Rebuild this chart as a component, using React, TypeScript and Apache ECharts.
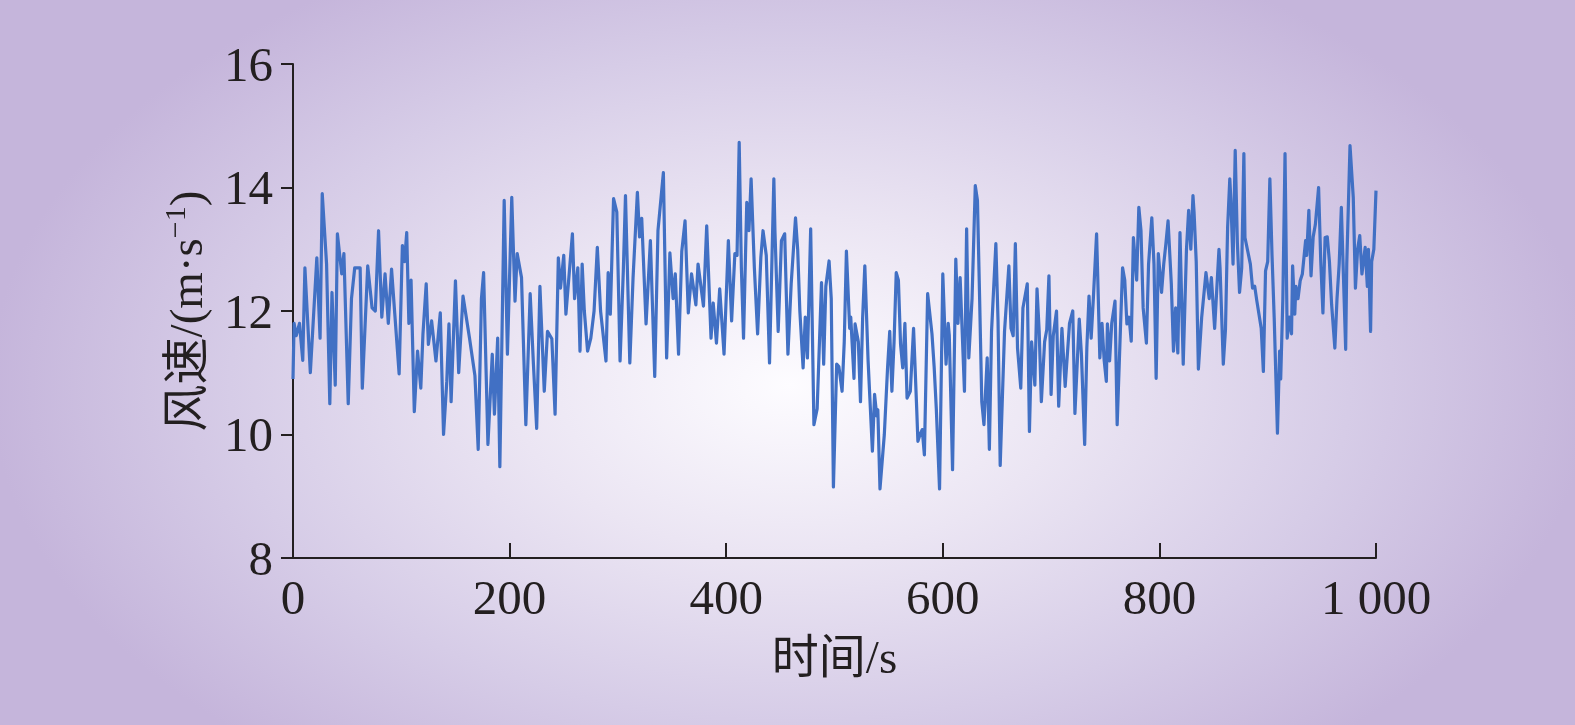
import React, { useEffect, useRef } from 'react';
import * as echarts from 'echarts';

const times = [
  0, 1, 3, 6, 9, 11, 16, 22, 25, 27,
  31, 34, 36, 39, 41, 45, 47, 51, 54, 57,
  62, 64, 69, 73, 76, 79, 82, 85, 88, 91,
  94, 98, 101, 103, 105, 107, 109, 112, 115, 118,
  120, 123, 125, 128, 132, 136, 139, 142, 144, 146,
  150, 153, 157, 163, 168, 171, 174, 176, 180, 184,
  186, 189, 191, 195, 198, 202, 205, 207, 211, 215,
  219, 222, 225, 228, 232, 235, 239, 242, 245, 247,
  250, 252, 258, 260, 263, 265, 267, 269, 272, 275,
  278, 281, 284, 289, 291, 293, 296, 299, 302, 305,
  307, 311, 314, 318, 320, 322, 326, 330, 334, 337,
  342, 345, 348, 351, 353, 356, 359, 362, 365, 368,
  372, 374, 379, 382, 386, 388, 391, 394, 398, 402,
  405, 408, 410, 412, 414, 416, 419, 421, 423, 426,
  429, 432, 434, 437, 440, 444, 445, 448, 451, 454,
  457, 460, 464, 466, 468, 471, 473, 475, 478, 481,
  484, 488, 490, 492, 495, 497, 499, 502, 504, 507,
  509, 511, 514, 515, 518, 519, 522, 524, 526, 528,
  531, 535, 537, 539, 540, 542, 546, 549, 551, 553,
  555, 557, 559, 561, 563, 565, 567, 570, 573, 576,
  577, 579, 581, 583, 586, 590, 592, 594, 597, 600,
  603, 605, 606, 609, 612, 614, 616, 620, 622, 624,
  627, 630, 632, 634, 636, 638, 641, 643, 645, 649,
  651, 653, 655, 657, 661, 663, 665, 667, 669, 672,
  674, 678, 680, 682, 685, 687, 689, 691, 694, 696,
  698, 700, 702, 705, 707, 710, 713, 717, 720, 722,
  726, 728, 731, 733, 735, 737, 739, 742, 743, 745,
  747, 749, 751, 752, 754, 756, 759, 761, 764, 766,
  768, 770, 772, 774, 776, 779, 781, 783, 785, 788,
  790, 793, 795, 797, 799, 802, 804, 806, 808, 811,
  813, 815, 817, 819, 822, 825, 827, 829, 831, 832,
  834, 836, 839, 843, 846, 848, 851, 855, 856, 859,
  861, 863, 865, 866, 868, 870, 872, 874, 876, 878,
  879, 884, 886, 888, 890, 894, 896, 898, 900, 902,
  904, 906, 909, 911, 912, 914, 916, 918, 920, 922,
  923, 925, 926, 928, 930, 932, 935, 936, 938, 940,
  942, 944, 947, 949, 951, 953, 955, 957, 959, 962,
  964, 966, 968, 969, 972, 973, 976, 979, 981, 983,
  985, 987, 990, 992, 993, 995, 996, 998, 1000,
];

const speeds = [
  10.9, 11.8, 11.6, 11.8, 11.2, 12.7, 11.0, 12.86, 11.56, 13.9,
  12.76, 10.5, 12.3, 10.8, 13.25, 12.6, 12.93, 10.5, 12.2, 12.7,
  12.7, 10.75, 12.73, 12.05, 12.0, 13.3, 11.9, 12.6, 11.8, 12.68,
  11.95, 10.98, 13.06, 12.8, 13.27, 11.8, 12.5, 10.37, 11.35, 10.75,
  11.63, 12.44, 11.46, 11.84, 11.19, 11.97, 10.0, 10.86, 11.79, 10.53,
  12.49, 11.0, 12.24, 11.56, 10.95, 9.76, 12.2, 12.62, 9.84, 11.3,
  10.33, 11.56, 9.48, 13.79, 11.3, 13.84, 12.16, 12.93, 12.54, 10.16,
  12.28, 11.14, 10.1, 12.4, 10.7, 11.67, 11.55, 10.33, 12.86, 12.37,
  12.9, 11.95, 13.25, 12.2, 12.7, 11.35, 12.76, 12.0, 11.35, 11.56,
  12.0, 13.03, 12.0, 11.19, 12.62, 11.95, 13.82, 13.6, 11.19, 12.65,
  13.87, 11.16, 12.54, 13.92, 13.2, 13.5, 11.79, 13.14, 10.94, 13.3,
  14.24, 11.24, 12.94, 12.2, 12.6, 11.3, 12.97, 13.46, 11.97, 12.6,
  12.1, 12.76, 12.08, 13.38, 11.56, 12.13, 11.48, 12.36, 11.3, 13.14,
  11.84, 12.93, 12.9, 14.73, 12.7, 11.56, 13.76, 13.3, 14.14, 12.7,
  11.63, 12.87, 13.3, 12.9, 11.16, 14.14, 13.3, 11.67, 13.14, 13.25,
  11.3, 12.44, 13.51, 13.0, 12.0, 11.08, 11.9, 11.24, 13.33, 10.16,
  10.42, 12.46, 11.14, 12.4, 12.81, 12.2, 9.15, 11.14, 11.1, 10.7,
  11.5, 12.97, 11.72, 11.9, 10.91, 11.79, 11.5, 10.53, 11.9, 12.73,
  11.2, 9.73, 10.65, 10.3, 10.4, 9.12, 10.0, 11.08, 11.67, 10.7,
  11.5, 12.62, 12.5, 11.46, 11.08, 11.8, 10.59, 10.7, 11.72, 10.37,
  9.89, 10.0, 10.08, 9.67, 12.28, 11.63, 11.1, 10.42, 9.12, 12.6,
  11.14, 11.8, 11.6, 9.43, 12.84, 11.8, 12.54, 10.7, 13.33, 11.24,
  12.2, 14.03, 13.79, 12.2, 10.53, 10.16, 11.24, 9.76, 11.67, 13.09,
  11.84, 9.5, 10.59, 11.67, 12.73, 11.72, 11.6, 13.09, 11.4, 10.75,
  12.05, 12.44, 10.05, 11.5, 10.8, 12.36, 11.67, 10.53, 11.5, 11.7,
  12.57, 10.65, 11.6, 12.0, 10.46, 11.72, 10.78, 11.8, 12.0, 10.34,
  11.87, 11.3, 9.84, 11.4, 12.24, 11.56, 12.2, 13.25, 12.6, 11.24,
  11.8, 11.2, 10.86, 11.79, 11.19, 11.8, 12.16, 10.16, 11.7, 12.7,
  12.5, 11.79, 11.9, 11.51, 13.19, 12.5, 13.68, 13.3, 12.05, 11.48,
  12.76, 13.51, 12.76, 10.91, 12.93, 12.3, 12.76, 13.09, 13.46, 12.44,
  11.35, 12.05, 11.32, 13.27, 11.14, 13.0, 13.63, 13.0, 13.87, 13.6,
  12.8, 11.06, 11.89, 12.62, 12.2, 12.54, 11.72, 13.0, 12.7, 11.14,
  11.7, 13.36, 14.14, 13.8, 12.76, 14.6, 13.1, 12.3, 12.7, 14.55,
  13.19, 12.76, 12.37, 12.4, 12.16, 11.72, 11.02, 12.65, 12.8, 14.14,
  12.9, 11.89, 10.02, 11.35, 10.9, 12.2, 14.55, 11.56, 11.9, 11.63,
  12.73, 11.95, 12.4, 12.2, 12.49, 12.6, 13.14, 12.9, 13.63, 12.57,
  13.2, 13.4, 14.0, 12.8, 11.97, 13.19, 13.2, 12.8, 12.11, 11.4,
  12.2, 12.76, 13.68, 13.1, 11.38, 12.76, 14.68, 13.84, 12.37, 13.0,
  13.22, 12.6, 13.03, 12.4, 13.0, 11.67, 12.8, 13.0, 13.95,
];

const xTickValues = [0, 200, 400, 600, 800, 1000];
const xTickLabels = ['0', '200', '400', '600', '800', '1 000'];

const FONT = "'Liberation Serif', 'Times New Roman', 'Noto Sans CJK SC', serif";
const INK = '#231f20';

export default function App() {
  const ref = useRef<HTMLDivElement>(null);

  useEffect(() => {
    document.body.style.margin = '0';
    const chart = echarts.init(ref.current as HTMLDivElement, null, { renderer: 'svg' });
    chart.setOption({
      animation: false,
      grid: { left: 293, right: 199, top: 64, bottom: 167 },
      xAxis: {
        type: 'value',
        min: 0,
        max: 1000,
        interval: 200,
        name: '时间/s',
        nameLocation: 'middle',
        nameGap: 75,
        nameTextStyle: { fontFamily: FONT, fontSize: 47, color: INK },
        axisLine: { show: true, lineStyle: { color: INK, width: 2 } },
        axisTick: { show: true, inside: true, length: 15, lineStyle: { color: INK, width: 2 } },
        axisLabel: {
          margin: 15,
          fontFamily: FONT,
          fontSize: 49,
          color: INK,
          formatter: (v: number) => {
            const i = xTickValues.indexOf(v);
            return i >= 0 ? xTickLabels[i] : String(v);
          },
        },
        splitLine: { show: false },
      },
      yAxis: {
        type: 'value',
        min: 8,
        max: 16,
        interval: 2,
        name: '{a|风速/(m·s}{b|−1}{a|)}',
        nameLocation: 'middle',
        nameGap: 80,
        nameTextStyle: {
          rich: {
            a: { fontFamily: FONT, fontSize: 47, color: INK, lineHeight: 54 },
            b: { fontFamily: FONT, fontSize: 30, color: INK, verticalAlign: 'top', lineHeight: 32 },
          },
        },
        axisLine: { show: true, lineStyle: { color: INK, width: 2 } },
        axisTick: { show: true, inside: false, length: 12, lineStyle: { color: INK, width: 2 } },
        axisLabel: { margin: 20, fontFamily: FONT, fontSize: 49, color: INK },
        splitLine: { show: false },
      },
      series: [
        {
          type: 'line',
          data: times.map((t, i) => [t, speeds[i]]),
          showSymbol: false,
          symbol: 'none',
          lineStyle: { color: '#4170c4', width: 3.2, join: 'round' },
          itemStyle: { color: '#4170c4' },
        },
      ],
    });
    return () => chart.dispose();
  }, []);

  return (
    <div
      ref={ref}
      style={{
        position: 'fixed',
        left: 0,
        top: 0,
        width: 1575,
        height: 725,
        background:
          'radial-gradient(ellipse 800px 480px at 790px 385px, #fdfcff 0%, #ebe5f3 35%, #d6cce7 70%, #c5b5db 100%)',
      }}
    />
  );
}
